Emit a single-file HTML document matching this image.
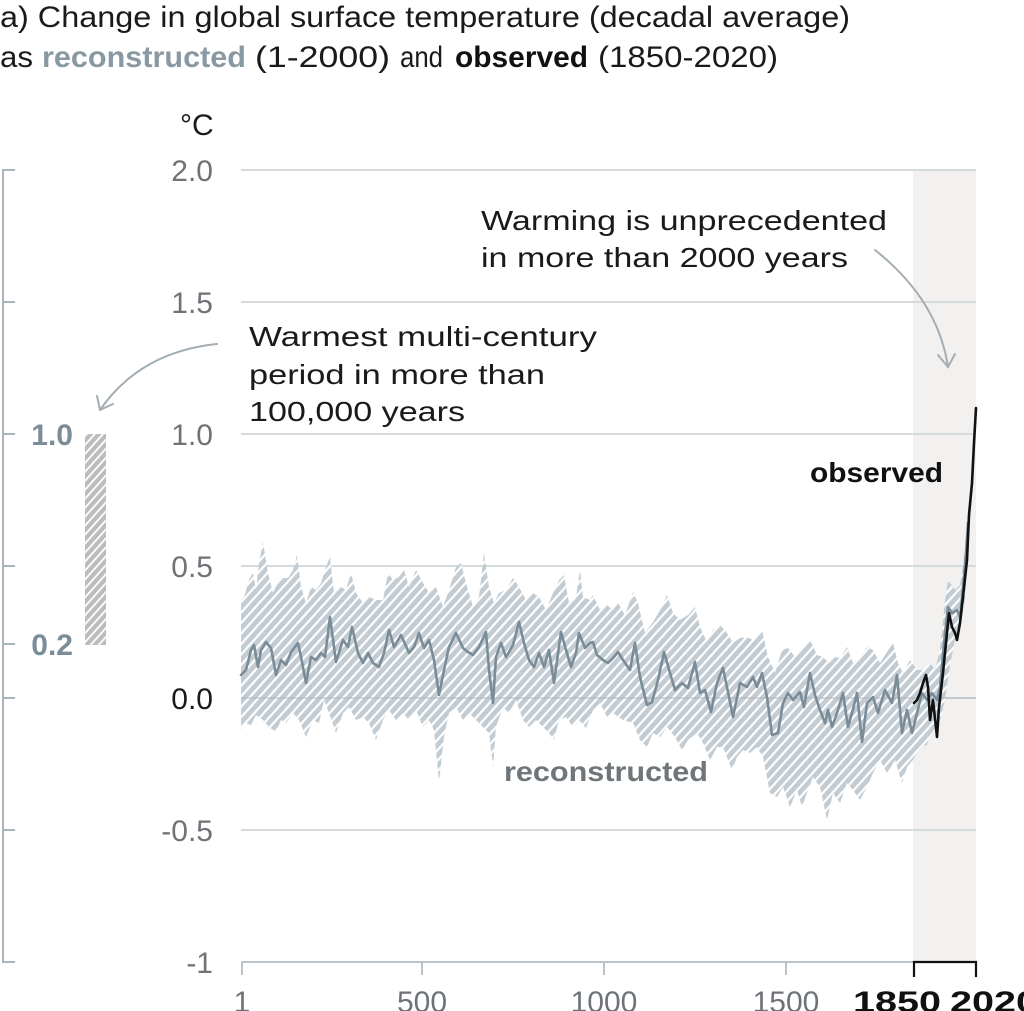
<!DOCTYPE html>
<html><head><meta charset="utf-8"><style>
html,body{margin:0;padding:0;background:#fff;}
svg{display:block;font-family:"Liberation Sans",Arial,sans-serif;}
</style></head><body>
<svg width="1024" height="1011" viewBox="0 0 1024 1011" xmlns="http://www.w3.org/2000/svg">
<defs>
<pattern id="hb" patternUnits="userSpaceOnUse" width="7" height="7" patternTransform="rotate(42)">
<rect width="7" height="7" fill="#c3ccd3"/><rect width="2.2" height="7" fill="#ffffff"/>
</pattern>
<pattern id="hg" patternUnits="userSpaceOnUse" width="6" height="6" patternTransform="rotate(42)">
<rect width="6" height="6" fill="#bcbcbc"/><rect width="1.8" height="6" fill="#ffffff"/>
</pattern>
</defs>

<!-- Title -->
<text x="0" y="27" font-size="30" fill="#1a1a1a" textLength="850" lengthAdjust="spacingAndGlyphs">a) Change in global surface temperature (decadal average)</text>
<text x="0" y="67" font-size="30" fill="#1a1a1a" textLength="33" lengthAdjust="spacingAndGlyphs">as</text>
<text x="42" y="67" font-size="30" font-weight="bold" fill="#8999a4" textLength="204" lengthAdjust="spacingAndGlyphs">reconstructed</text>
<text x="255" y="67" font-size="30" fill="#1a1a1a" textLength="135" lengthAdjust="spacingAndGlyphs">(1-2000)</text>
<text x="400" y="67" font-size="30" fill="#1a1a1a" textLength="43" lengthAdjust="spacingAndGlyphs">and</text>
<text x="455" y="67" font-size="30" font-weight="bold" fill="#111" textLength="133" lengthAdjust="spacingAndGlyphs">observed</text>
<text x="598" y="67" font-size="30" fill="#1a1a1a" textLength="180" lengthAdjust="spacingAndGlyphs">(1850-2020)</text>

<!-- unit -->
<text x="180" y="135" font-size="30" fill="#1a1a1a">°C</text>

<!-- modern shaded band -->
<rect x="913" y="170" width="63" height="792" fill="#f3f1ef"/>

<!-- gridlines -->
<g stroke="#d5dadd" stroke-width="2">
<line x1="241" y1="170" x2="976" y2="170"/>
<line x1="241" y1="302" x2="976" y2="302"/>
<line x1="241" y1="434" x2="976" y2="434"/>
<line x1="241" y1="566" x2="976" y2="566"/>
<line x1="241" y1="698" x2="976" y2="698"/>
<line x1="241" y1="830" x2="976" y2="830"/>
</g>

<!-- uncertainty band -->
<polygon fill="url(#hb)" points="241,600 244,597 249,580 253,573 256,590 259,563 263,542 268,573 273,593 278,582 283,578 288,578 293,570 297,555 301,587 306,603 311,587 316,590 321,583 326,567 330,557 334,593 341,587 346,590 351,573 356,593 363,603 369,597 376,600 383,600 388,573 393,580 399,577 404,570 409,587 416,570 423,583 429,593 436,587 443,607 449,590 456,567 461,563 466,583 473,607 479,597 484,553 489,587 494,603 499,593 506,590 513,578 519,587 526,600 533,593 539,597 546,610 553,593 559,580 564,575 569,603 576,597 580,570 583,597 590,600 593,595 600,610 607,605 613,610 618,603 625,615 633,592 638,603 645,633 653,622 662,607 667,595 673,613 680,620 688,615 695,607 700,627 707,642 713,630 720,625 727,633 733,643 740,638 747,637 753,640 762,630 768,657 775,673 782,650 788,648 795,657 802,650 810,640 817,655 823,657 829,663 835,657 840,658 847,647 853,663 860,657 867,647 873,650 880,663 887,652 893,643 898,663 903,673 910,660 917,670 923,670 930,663 935,670 940,650 945,600 948,580 955,590 960,585 963,565 966,540 968,520 968,530 965,600 960,625 955,640 950,665 945,700 940,720 935,728 930,735 927,745 920,747 913,760 907,767 902,783 895,760 887,773 880,760 873,773 867,787 860,800 853,790 847,783 840,803 833,793 827,820 820,787 813,777 807,793 802,807 797,790 790,807 783,787 777,797 770,793 763,757 757,747 750,753 743,750 737,757 732,770 723,747 717,747 710,760 703,743 697,733 688,740 682,750 675,737 667,727 660,737 653,733 647,747 640,740 633,723 623,720 613,713 607,717 600,703 593,710 586,728 579,720 573,727 566,717 559,720 554,740 549,733 543,727 536,720 529,727 523,720 516,700 509,713 503,707 496,727 493,767 489,733 483,727 476,720 469,713 463,720 456,707 449,713 444,737 439,782 434,730 429,720 423,727 416,710 409,720 403,713 396,720 389,710 383,720 376,740 369,723 363,717 356,720 349,707 343,713 336,733 329,713 324,700 319,723 313,720 306,737 299,720 293,713 286,723 281,720 276,732 269,727 263,720 256,715 251,725 246,723 241,730"/>

<!-- zero line over band -->
<line x1="241" y1="698" x2="976" y2="698" stroke="#aab4bb" stroke-width="1.5" opacity="0.6"/>

<!-- reconstructed line -->
<polyline fill="none" stroke="#7a8c98" stroke-width="2.6" stroke-linejoin="round" stroke-linecap="round" points="241,675 246,670 251,650 254,645 258,667 261,650 266,642 271,648 276,675 281,660 286,665 291,652 298,643 301,657 306,683 311,657 316,660 321,653 325,657 330,617 336,662 343,640 348,647 352,627 358,653 363,663 368,653 373,663 379,667 384,653 389,630 394,647 401,635 409,653 414,647 419,633 424,648 429,640 434,660 439,695 444,670 449,647 456,633 463,648 468,652 473,655 479,647 486,632 489,670 493,703 496,657 501,643 506,657 513,645 519,622 524,643 529,660 534,667 539,653 544,667 549,650 554,683 561,632 566,650 571,667 576,653 579,633 585,648 590,643 593,642 597,655 603,660 608,663 613,658 618,652 623,660 630,670 635,643 640,677 647,705 652,702 658,680 664,652 670,673 675,690 682,683 688,688 695,662 700,693 705,690 711,712 717,683 723,668 728,692 733,717 740,683 747,687 753,677 757,687 762,673 767,697 772,735 778,733 783,703 788,693 793,700 800,692 804,707 810,673 815,695 820,710 825,723 828,710 832,727 837,713 843,693 848,727 852,713 857,693 862,742 867,703 873,697 878,713 885,690 892,703 897,675 902,733 907,710 912,733 917,713 922,693 927,700 932,693 937,700 940,687 945,633 948,607 952,613 957,610 960,617 963,587 966,553 968,523"/>

<!-- observed line -->
<polyline fill="none" stroke="#111" stroke-width="2.6" stroke-linejoin="round" stroke-linecap="round" points="914,703 917,700 920,693 923,683 926,675 928,687 930,720 933,700 937,737 939,707 943,673 947,633 949,613 952,627 955,633 957,640 960,623 963,597 967,560 969,515 972,483 974,443 976,408"/>

<!-- x axis -->
<line x1="241" y1="962" x2="914" y2="962" stroke="#bcc4c9" stroke-width="2"/>
<g stroke="#bcc4c9" stroke-width="2">
<line x1="242" y1="962" x2="242" y2="975"/>
<line x1="422" y1="962" x2="422" y2="975"/>
<line x1="604" y1="962" x2="604" y2="975"/>
<line x1="786" y1="962" x2="786" y2="975"/>
</g>
<polyline fill="none" stroke="#111" stroke-width="2.2" points="914,977 914,962 976,962 976,977"/>

<g font-size="30" fill="#6e7378" text-anchor="middle">
<text x="242" y="1012">1</text>
<text x="422" y="1012">500</text>
<text x="604" y="1012">1000</text>
<text x="786" y="1012">1500</text>
</g>
<text x="853" y="1012" font-size="30" font-weight="bold" fill="#111" textLength="88" lengthAdjust="spacingAndGlyphs">1850</text>
<text x="950" y="1012" font-size="30" font-weight="bold" fill="#111" textLength="88" lengthAdjust="spacingAndGlyphs">2020</text>

<!-- y tick labels -->
<g font-size="30" fill="#6e7378" text-anchor="end">
<text x="213" y="181">2.0</text>
<text x="213" y="313">1.5</text>
<text x="213" y="445">1.0</text>
<text x="213" y="577">0.5</text>
<text x="213" y="709" fill="#1a1a1a">0.0</text>
<text x="213" y="841">-0.5</text>
<text x="213" y="973">-1</text>
</g>

<!-- left axis -->
<g stroke="#a9b4bb" stroke-width="2">
<line x1="3" y1="169" x2="3" y2="963"/>
<line x1="3" y1="170" x2="15" y2="170"/>
<line x1="3" y1="302" x2="15" y2="302"/>
<line x1="3" y1="434" x2="15" y2="434"/>
<line x1="3" y1="566" x2="15" y2="566"/>
<line x1="3" y1="644" x2="15" y2="644"/>
<line x1="3" y1="698" x2="15" y2="698"/>
<line x1="3" y1="830" x2="15" y2="830"/>
<line x1="3" y1="962" x2="15" y2="962"/>
</g>
<g font-size="30" font-weight="bold" fill="#7b8d99" text-anchor="end">
<text x="73" y="445">1.0</text>
<text x="73" y="655">0.2</text>
</g>
<rect x="85" y="434" width="21" height="211" fill="url(#hg)"/>

<!-- annotations -->
<g font-size="28" fill="#1a1a1a">
<text x="249" y="346" textLength="348" lengthAdjust="spacingAndGlyphs">Warmest multi-century</text>
<text x="249" y="384" textLength="296" lengthAdjust="spacingAndGlyphs">period in more than</text>
<text x="249" y="421" textLength="216" lengthAdjust="spacingAndGlyphs">100,000 years</text>
<text x="481" y="230" textLength="406" lengthAdjust="spacingAndGlyphs">Warming is unprecedented</text>
<text x="481" y="267" textLength="367" lengthAdjust="spacingAndGlyphs">in more than 2000 years</text>
</g>
<text x="810" y="482" font-size="28" font-weight="bold" fill="#111" textLength="133" lengthAdjust="spacingAndGlyphs">observed</text>
<text x="504" y="781" font-size="28" font-weight="bold" fill="#6f767a" textLength="204" lengthAdjust="spacingAndGlyphs">reconstructed</text>

<!-- arrows -->
<g fill="none" stroke="#a3adb3" stroke-width="2" stroke-linecap="round">
<path d="M217,344 Q140,352 100,410"/>
<path d="M97,396 L100,410 L113,404"/>
<path d="M875,250 Q938,300 948,367"/>
<path d="M938,355 L948,367 L955,354"/>
</g>
</svg>
</body></html>
